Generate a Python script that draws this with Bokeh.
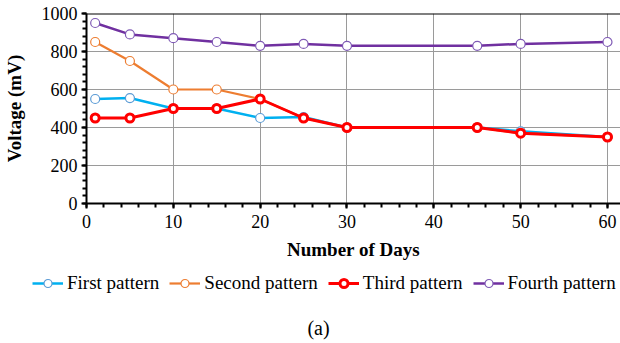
from bokeh.plotting import figure
from bokeh.models import (SingleIntervalTicker, Range1d, Legend, LegendItem, Span)
from bokeh.core.properties import value
from bokeh.embed import file_html
from bokeh.resources import INLINE

days = [1, 5, 10, 15, 20, 25, 30, 45, 50, 60]
first_pattern = [550, 555, 500, 500, 450, 455, 400, 400, 380, 350]
second_pattern = [850, 750, 600, 600, 550, 450, 400, 400, 370, 350]
third_pattern = [450, 450, 500, 500, 550, 450, 400, 400, 370, 350]
fourth_pattern = [950, 890, 870, 850, 830, 840, 830, 830, 840, 850]
series_names = ["First pattern", "Second pattern", "Third pattern", "Fourth pattern"]
caption = "(a)"

FONT = "Liberation Serif"

p = figure(width=620, height=270, output_backend="svg", toolbar_location=None,
           x_range=Range1d(0, 61.5), y_range=Range1d(0, 1000),
           min_border_left=86, min_border_right=0, min_border_top=13, min_border_bottom=67)
p.outline_line_color = None
p.background_fill_color = "white"
p.border_fill_color = "white"

for ax, ticker in ((p.xaxis[0], SingleIntervalTicker(interval=10, num_minor_ticks=5)),
                   (p.yaxis[0], SingleIntervalTicker(interval=200, num_minor_ticks=5))):
    ax.ticker = ticker
    ax.axis_line_width = 2
    ax.axis_line_color = "black"
    ax.major_tick_line_color = "black"
    ax.minor_tick_line_color = "black"
    ax.major_tick_line_width = 2
    ax.minor_tick_line_width = 2
    ax.major_tick_out = 5
    ax.major_tick_in = 0
    ax.minor_tick_out = 4
    ax.minor_tick_in = 0
    ax.major_label_text_font = FONT
    ax.major_label_text_font_size = "18px"
    ax.major_label_text_color = "black"
    ax.axis_label_text_font = FONT
    ax.axis_label_text_font_size = "19px"
    ax.axis_label_text_font_style = "bold"
    ax.axis_label_text_color = "black"

p.xaxis.axis_label = "Number of Days"
p.yaxis.axis_label = "Voltage (mV)"
p.xaxis.major_label_standoff = 6
p.yaxis.major_label_standoff = 4
p.xaxis.axis_label_standoff = 8
p.yaxis.axis_label_standoff = 14

p.xgrid.ticker = p.xaxis[0].ticker
p.ygrid.ticker = p.yaxis[0].ticker
p.grid.grid_line_color = "#9a9a9a"
p.grid.grid_line_width = 1

p.add_layout(Span(location=1000, dimension="width", line_color="black", line_width=2))

styles = [
    dict(color="#00B0F0", mcolor="#5B9BD5", lw=2.5, size=9, mlw=1.2),
    dict(color="#ED7D31", mcolor="#ED7D31", lw=2.2, size=9, mlw=1.2),
    dict(color="#FF0000", mcolor="#FF0000", lw=3, size=8, mlw=3),
    dict(color="#7030A0", mcolor="#7F5AB5", lw=2.5, size=9, mlw=1.2),
]
data = [first_pattern, second_pattern, third_pattern, fourth_pattern]
for vals, st in zip(data, styles):
    p.line(days, vals, line_color=st["color"], line_width=st["lw"])
    p.scatter(days, vals, marker="circle", size=st["size"], fill_color="white",
              line_color=st["mcolor"], line_width=st["mlw"])

# legend + caption strip (separate root so its frame spans the full width)
q = figure(width=620, height=73, output_backend="svg", toolbar_location=None,
           x_range=Range1d(0, 620), y_range=Range1d(0, 73),
           min_border=0, min_border_left=0, min_border_right=0,
           min_border_top=0, min_border_bottom=0,
           x_axis_type=None, y_axis_type=None)
q.outline_line_color = None
q.grid.visible = False
q.border_fill_color = "white"
q.background_fill_color = "white"

nan = float("nan")
items = []
for name, st in zip(series_names, styles):
    l = q.line([nan, nan], [nan, nan], line_color=st["color"], line_width=st["lw"])
    s = q.scatter([nan], [nan], marker="circle", size=st["size"], fill_color="white",
                  line_color=st["mcolor"], line_width=st["mlw"])
    items.append(LegendItem(label=name, renderers=[l, s]))

legend = Legend(items=items, orientation="horizontal", location=(32, 49),
                label_text_font=FONT, label_text_font_size="19px", label_text_color="black",
                glyph_width=31, glyph_height=20, label_standoff=4, spacing=10,
                padding=0, margin=0, border_line_color=None, background_fill_alpha=0)
q.add_layout(legend, "center")

q.text(x=[318], y=[16], text=[caption], text_font=value(FONT), text_font_size="20px",
       text_align="center", text_baseline="middle", text_color="black")

open("out.html", "w").write(file_html([p, q], INLINE))
